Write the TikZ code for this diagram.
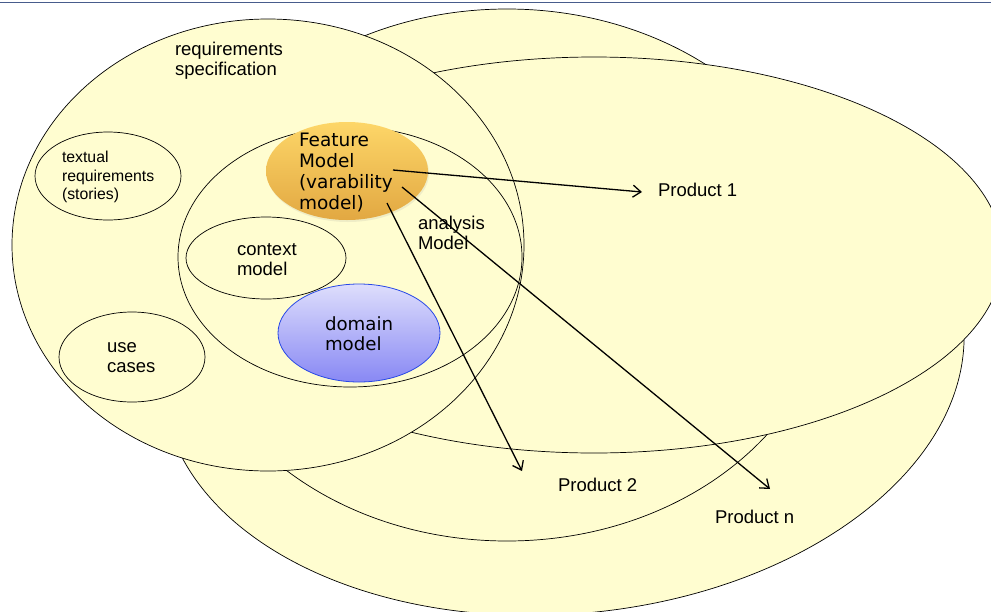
\documentclass[tikz,border=0pt]{standalone}
\usepackage{fontspec}
\setmainfont{Liberation Sans}
\newfontfamily\verdana{DejaVu Sans}
\usetikzlibrary{shapes.geometric, positioning, arrows.meta, shadows}
\definecolor{paper}{RGB}{255,253,208}
\definecolor{featTop}{RGB}{253,214,104}
\definecolor{featBot}{RGB}{226,168,66}
\definecolor{domTop}{RGB}{222,222,252}
\definecolor{domBot}{RGB}{136,136,244}
\definecolor{domLine}{RGB}{40,72,230}
\definecolor{slate}{RGB}{72,92,140}
\tikzset{
x=1pt, y=-1pt, % one unit is one pixel of the slide, y goes down
>={Straight Barb[length=8pt,width=12pt]}, % open arrow heads
every node/.style={inner sep=0pt, outer sep=0pt},
blob/.style={ellipse, draw=black, line width=0.7pt, fill=paper}, % the yellow areas
ring/.style={ellipse, draw=black, line width=0.7pt}, % an outline only
txt/.style={anchor=west, align=left, font=\fontsize{18.5}{20}\selectfont},
vtxt/.style={anchor=west, align=left, font=\verdana\fontsize{18.5}{21}\selectfont},
arr/.style={->, line width=1.3pt},
}
\begin{document}
\begin{tikzpicture}
  \useasboundingbox (0,0) rectangle (991,611);
  \draw[slate, line width=1.6pt] (0,2.5) -- (991,2.5);
  % products, back to front
  \node[blob, rotate=5, minimum width=804pt, minimum height=514pt] (prodn) at (563,357) {};
  \node[blob, minimum width=650pt, minimum height=532pt] (prod2) at (507,275) {};
  \node[blob, minimum width=818pt, minimum height=396pt] (prod1) at (594,255) {};
  % requirements
  \node[blob, minimum width=512pt, minimum height=452pt] (req) at (268,245) {};
  \node[ring, minimum width=344pt, minimum height=260pt] (ana) at (350,257) {};
  \node[blob, minimum width=146pt, minimum height=88pt] (stories) at (108,176) {};
  \node[blob, minimum width=146pt, minimum height=90pt] (uc) at (132,357) {};
  \node[blob, minimum width=160pt, minimum height=82pt] (ctx) at (266,258) {};
  \node[ellipse, top color=featTop, bottom color=featBot,
    drop shadow={opacity=0.12, shadow xshift=1pt, shadow yshift=-2pt},
    minimum width=162pt, minimum height=98pt] (feat) at (347,171) {};
  \node[ellipse, draw=domLine, line width=0.8pt, top color=domTop, bottom color=domBot,
    minimum width=162pt, minimum height=98pt] (dom) at (359,333) {};

  % texts
  \node[txt] (reqlbl) at (175,61) {requirements\\specification};
  \node[txt, font=\fontsize{15.8}{18.3}\selectfont] (storieslbl) at (62,177) {textual\\requirements\\(stories)};
  \node[txt] (uclbl) at (107,358) {use\\cases};
  \node[txt] (ctxlbl) at (237,260) {context\\model};
  \node[txt] (analbl) at (418,233) {analysis\\Model};
  \node[vtxt] (featlbl) at (299,172) {Feature\\Model\\(varability\\model)};
  \node[vtxt, font=\verdana\fontsize{18.2}{20}\selectfont] (domlbl) at (325,334) {domain\\model};
  \node[txt] (p1lbl) at (658,190) {Product 1};
  \node[txt] (p2lbl) at (558,485) {Product 2};
  \node[txt] (pnlbl) at (715,517) {Product n};

  % derivation arrows
  \coordinate (f1) at (393,170);
  \coordinate (f2) at (387,203);
  \coordinate (f3) at (402,187);
  \coordinate (t1) at (642,192);
  \coordinate (t2) at (522,471);
  \coordinate (tn) at (770,489);
  \draw[arr] (f1) -- (t1);
  \draw[arr] (f2) -- (t2);
  \draw[arr] (f3) -- (tn);
\end{tikzpicture}
\end{document}
